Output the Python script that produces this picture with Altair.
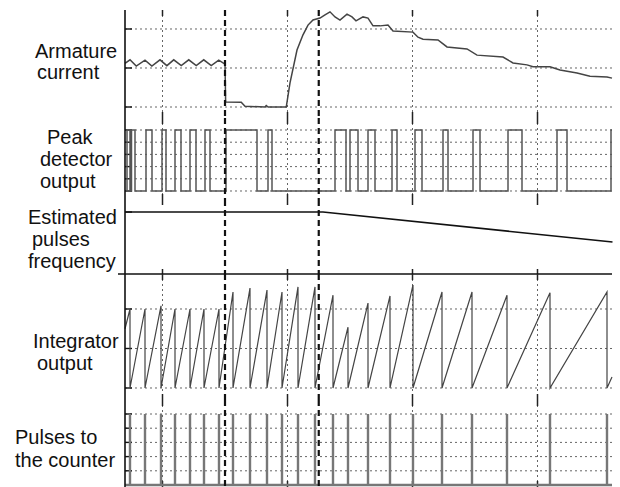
import altair as alt
import pandas as pd

# time axis (divisions); vertical grid at whole divisions
T0, T1 = -0.3, 3.596
W = 487
GRID_T = [0, 1, 2, 3]
MARKERS = [0.5, 1.25]

# Armature current
cur_t = [-0.30, -0.26, -0.21, -0.14, -0.085, -0.02, 0.035, 0.09, 0.15, 0.21, 0.27, 0.33,
         0.39, 0.45, 0.50, 0.505, 0.63, 0.66, 0.82, 0.83, 0.845, 0.99, 1.02, 1.076,
         1.124, 1.164, 1.204, 1.26, 1.30, 1.34, 1.38, 1.42, 1.476, 1.516, 1.548, 1.604,
         1.644, 1.684, 1.74, 1.804, 1.844, 2.004, 2.044, 2.084, 2.204, 2.276, 2.436,
         2.516, 2.724, 2.804, 2.916, 2.964, 3.10, 3.18, 3.316, 3.42, 3.556, 3.596]
cur_v = [1.12, 1.21, 1.05, 1.20, 1.05, 1.21, 1.06, 1.21, 1.06, 1.21, 1.06, 1.21,
         1.06, 1.20, 1.10, 0.13, 0.12, 0.02, 0.0, 0.04, 0.0, 0.0, 0.62, 1.46,
         1.85, 2.10, 2.23, 2.28, 2.36, 2.44, 2.31, 2.23, 2.38, 2.31, 2.21, 2.31,
         2.28, 2.08, 2.08, 2.10, 1.95, 1.92, 1.79, 1.74, 1.72, 1.54, 1.49,
         1.33, 1.28, 1.13, 1.08, 1.03, 1.03, 0.95, 0.87, 0.79, 0.77, 0.74]

# Peak detector output: rising and falling edges (None = still high at the end)
pk_rise = [-0.284, -0.248, -0.132, -0.004, 0.10, 0.22, 0.34, 0.508, 0.844, 1.38, 1.50,
           1.644, 1.836, 2.02, 2.244, 2.484, 2.764, 3.156, 3.588]
pk_fall = [-0.26, -0.22, -0.084, 0.028, 0.148, 0.268, 0.38, 0.756, 0.876, 1.468, 1.564,
           1.70, 1.876, 2.076, 2.284, 2.54, 2.876, 3.236, None]

# Estimated pulses frequency
est_t = [-0.3, 1.284, 3.6]
est_v = [1.0, 1.0, 0.516]

# Integrator: value at start, reset instants, level reached just before each reset
int_start = 1.5
resets = [-0.26, -0.14, -0.012, 0.10, 0.22, 0.332, 0.452, 0.564, 0.70, 0.836, 0.956,
          1.084, 1.22, 1.364, 1.484, 1.644, 1.82, 2.004, 2.236, 2.476, 2.756, 3.10, 3.556]
int_peaks = [2.0, 2.0, 2.08, 2.0, 2.0, 2.0, 2.0, 2.43, 2.53, 2.48, 2.43,
             2.56, 2.56, 2.35, 1.54, 2.15, 2.33, 2.61, 2.43, 2.43, 2.35, 2.41, 2.43]
int_end = 0.28

labels = {
    "cur": [("Armature", -90, 42), ("current", -88, 63)],
    "pk": [("Peak", -78, 20), ("detector", -85, 42), ("output", -85, 64)],
    "est": [("Estimated", -97, 18), ("pulses", -93, 40), ("frequency", -97, 62)],
    "int": [("Integrator", -92, 68), ("output", -88, 90)],
    "cnt": [("Pulses to", -110, 38), ("the counter", -110, 61)],
}

FONT = "Liberation Sans"
GRID_C = "#666"
ONE = pd.DataFrame({"a": [0]})


def xs():
    return alt.Scale(domain=[T0, T1], nice=False, zero=False)


def ys(lo, hi):
    return alt.Scale(domain=[lo, hi], nice=False, zero=False)


def ticks_left(levels, ysc):
    lv = pd.DataFrame({"lv": levels})
    return alt.Chart(lv).mark_rule(color="#111", strokeWidth=1.4).encode(
        y=alt.Y("lv:Q", scale=ysc, axis=None), x=alt.value(0), x2=alt.value(7))


def hgrid(levels, ysc):
    lv = pd.DataFrame({"lv": levels})
    dots = alt.Chart(lv).mark_rule(color=GRID_C, strokeDash=[2, 3], strokeWidth=1).encode(
        y=alt.Y("lv:Q", scale=ysc, axis=None), x=alt.value(0), x2=alt.value(W))
    return [dots, ticks_left(levels, ysc)]


def vgrid(h):
    gt = pd.DataFrame({"t": GRID_T})
    return alt.Chart(gt).mark_rule(color=GRID_C, strokeDash=[2, 3], strokeWidth=1).encode(
        x=alt.X("t:Q", scale=xs(), axis=None), y=alt.value(0), y2=alt.value(h))


def edge_ticks(h, n=6):
    gt = pd.DataFrame({"t": GRID_T})
    top = alt.Chart(gt).mark_rule(color="#222", strokeWidth=1.5).encode(
        x=alt.X("t:Q", scale=xs(), axis=None), y=alt.value(0), y2=alt.value(n))
    bot = alt.Chart(gt).mark_rule(color="#222", strokeWidth=1.5).encode(
        x=alt.X("t:Q", scale=xs(), axis=None), y=alt.value(h - n), y2=alt.value(h))
    return [top, bot]


def frame_over(h):
    mk = pd.DataFrame({"t": MARKERS})
    dashed = alt.Chart(mk).mark_rule(color="#111", strokeDash=[6, 4], strokeWidth=2.2).encode(
        x=alt.X("t:Q", scale=xs(), axis=None), y=alt.value(0), y2=alt.value(h))
    axis = alt.Chart(ONE).mark_rule(color="#111", strokeWidth=1.6).encode(
        x=alt.value(0), y=alt.value(0), y2=alt.value(h))
    return [dashed, axis]


def texts(key):
    out = []
    for s, px, py in labels[key]:
        out.append(alt.Chart(ONE).mark_text(
            align="left", baseline="middle", fontSize=20, font=FONT, color="#111"
        ).encode(x=alt.value(px), y=alt.value(py), text=alt.value(s)))
    return out


def line(df, ysc, color, width):
    return alt.Chart(df).mark_line(color=color, strokeWidth=width).encode(
        x=alt.X("t:Q", scale=xs(), axis=None),
        y=alt.Y("v:Q", scale=ysc, axis=None),
        order="i:Q")


def frame_df(t, v):
    return pd.DataFrame({"t": t, "v": v, "i": range(len(t))})


# --- Armature current
h1 = 108
y1 = ys(-0.282, 2.487)
anchor = alt.Chart(ONE).mark_rule(strokeOpacity=0, color="white").encode(
    x=alt.value(-125), x2=alt.value(-125), y=alt.value(-10), y2=alt.value(-10))
p1 = alt.layer(
    *hgrid([0, 1, 2], y1), vgrid(h1), *edge_ticks(h1),
    line(frame_df(cur_t, cur_v), y1, "#444", 1.5),
    *frame_over(h1), *texts("cur"), anchor,
).properties(width=W, height=h1)

# --- Peak detector output
h2 = 82
y2 = ys(-0.738, 5.984)
pt, pv = [T0], [0.0]
for r, f in zip(pk_rise, pk_fall):
    pt += [r, r]
    pv += [0.0, 5.0]
    if f is None:
        pt.append(T1)
        pv.append(5.0)
    else:
        pt += [f, f]
        pv += [5.0, 0.0]
if pk_fall[-1] is not None:
    pt.append(T1)
    pv.append(0.0)
p2 = alt.layer(
    *hgrid([0, 1, 2, 3, 4, 5], y2), vgrid(h2), *edge_ticks(h2),
    line(frame_df(pt, pv), y2, "#555", 1.5),
    *frame_over(h2), *texts("pk"),
).properties(width=W, height=h2)

# --- Estimated pulses frequency
h3 = 74
y3 = ys(0, 1.194)
base3 = alt.Chart(ONE).mark_rule(color="#111", strokeWidth=1.6).encode(
    x=alt.value(-7), x2=alt.value(W), y=alt.value(h3), y2=alt.value(h3))
p3 = alt.layer(
    *edge_ticks(h3, 5), ticks_left([1.0], y3),
    line(frame_df(est_t, est_v), y3, "#111", 1.6),
    base3, *frame_over(h3), *texts("est"),
).properties(width=W, height=h3)

# --- Integrator output
h4 = 126
y4 = ys(-0.304, 2.886)
it, iv = [T0], [int_start]
for r, p in zip(resets, int_peaks):
    it += [r, r]
    iv += [p, 0.0]
it.append(T1)
iv.append(int_end)
p4 = alt.layer(
    *hgrid([0, 1, 2], y4), vgrid(h4), *edge_ticks(h4),
    line(frame_df(it, iv), y4, "#444", 1.2),
    *frame_over(h4), *texts("int"),
).properties(width=W, height=h4)

# --- Pulses to the counter
h5 = 87
y5 = ys(-0.141, 5.986)
ct, cv = [T0], [0.0]
for r in resets:
    ct += [r, r, r]
    cv += [0.0, 5.0, 0.0]
ct.append(T1)
cv.append(0.0)
p5 = alt.layer(
    *hgrid([0, 1, 2, 3, 4, 5], y5), vgrid(h5), *edge_ticks(h5),
    line(frame_df(ct, cv), y5, "#777", 2.4),
    *frame_over(h5), *texts("cnt"),
).properties(width=W, height=h5)

chart = alt.vconcat(p1, p2, p3, p4, p5, spacing=0, bounds="flush").properties(
    padding={"left": 0, "top": 0, "right": 0, "bottom": 0},
    background="white",
).configure_view(stroke=None)

chart.save("out.html", embed_options={"renderer": "svg", "actions": False})
